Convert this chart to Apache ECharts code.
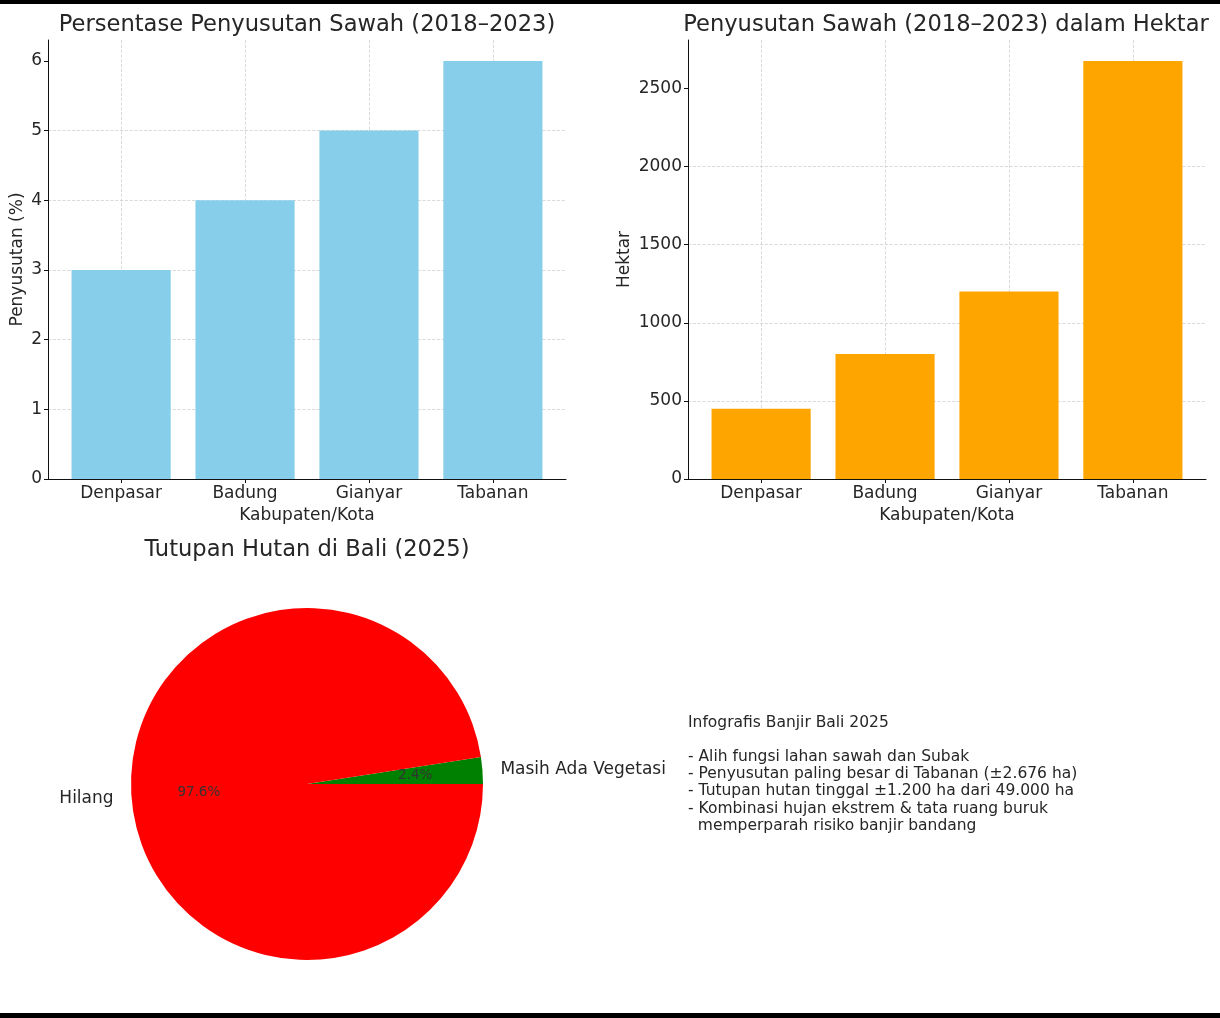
<!DOCTYPE html>
<html>
<head>
<meta charset="utf-8">
<script src="https://cdn.jsdelivr.net/npm/echarts@6/dist/echarts.min.js"></script>
<style>
  html, body { margin: 0; padding: 0; background: #fff; }
  #main { width: 1220px; height: 1018px; position: relative; }
  .bar { position: absolute; left: 0; width: 1220px; background: #000; z-index: 5; }
</style>
</head>
<body>
<div id="main"></div>
<div class="bar" style="top:0;height:4px"></div>
<div class="bar" style="top:1013px;height:5px"></div>
<script>
// data
var kabupaten = ['Denpasar', 'Badung', 'Gianyar', 'Tabanan'];
var persenSusut = [3, 4, 5, 6];
var hektarSusut = [450, 800, 1200, 2676];
var persenTicks = [0, 1, 2, 3, 4, 5, 6];
var hektarTicks = [0, 500, 1000, 1500, 2000, 2500];
var hutanNama = ['Masih Ada Vegetasi', 'Hilang'];
var hutanHa = [1200, 47800];
var infoLines = [
    'Infografis Banjir Bali 2025',
    '',
    '- Alih fungsi lahan sawah dan Subak',
    '- Penyusutan paling besar di Tabanan (\u00b12.676 ha)',
    '- Tutupan hutan tinggal \u00b11.200 ha dari 49.000 ha',
    '- Kombinasi hujan ekstrem & tata ruang buruk',
    '  memperparah risiko banjir bandang'
];

var FONT = 'DejaVu Sans';
var TXT = '#262626';
var GRIDLINE = { color: '#d0d0d0', type: 'dashed', width: 0.8 };
var katIdx = kabupaten.map(function (k, i) { return i; });

// x axis is a value axis so the margins match (bars sit at 0..3)
function xAxisCfg(gridIndex) {
    return {
        type: 'value',
        gridIndex: gridIndex,
        min: -0.59,
        max: 3.59,
        name: 'Kabupaten/Kota',
        nameLocation: 'middle',
        nameGap: 28,
        nameTextStyle: { fontFamily: FONT, fontSize: 17, color: TXT },
        axisLine: { show: true, onZero: false, lineStyle: { color: '#111', width: 1 } },
        axisTick: { show: true, length: 4, customValues: katIdx, lineStyle: { color: '#111' } },
        axisLabel: {
            fontFamily: FONT, fontSize: 17, color: TXT, margin: 6, customValues: katIdx,
            formatter: function (v) { return kabupaten[Math.round(v)]; }
        },
        splitLine: { show: true, lineStyle: GRIDLINE }
    };
}

function yAxisCfg(gridIndex, name, max, interval, ticks, nameGap) {
    return {
        type: 'value',
        gridIndex: gridIndex,
        min: 0,
        max: max,
        interval: interval,
        name: name,
        nameLocation: 'middle',
        nameGap: nameGap,
        nameRotate: 90,
        nameTextStyle: { fontFamily: FONT, fontSize: 17, color: TXT },
        axisLine: { show: true, onZero: false, lineStyle: { color: '#111', width: 1 } },
        axisTick: { show: true, length: 4, customValues: ticks, lineStyle: { color: '#111' } },
        axisLabel: {
            fontFamily: FONT, fontSize: 17, color: TXT, margin: 6, customValues: ticks,
            formatter: function (v) { return String(v); }
        },
        splitLine: { show: true, showMaxLine: false, lineStyle: GRIDLINE }
    };
}

var myChart = echarts.init(document.getElementById('main'));

var option = {
    animation: false,
    backgroundColor: '#fff',
    title: [
        { text: 'Persentase Penyusutan Sawah (2018\u20132023)', left: 302, top: 9, textAlign: 'center',
          textStyle: { fontFamily: FONT, fontSize: 22.6, fontWeight: 'normal', color: TXT } },
        { text: 'Penyusutan Sawah (2018\u20132023) dalam Hektar', left: 941, top: 9, textAlign: 'center',
          textStyle: { fontFamily: FONT, fontSize: 22.6, fontWeight: 'normal', color: TXT } },
        { text: 'Tutupan Hutan di Bali (2025)', left: 302, top: 534, textAlign: 'center',
          textStyle: { fontFamily: FONT, fontSize: 22.6, fontWeight: 'normal', color: TXT } }
    ],
    grid: [
        { left: 48, width: 518, top: 40, height: 439 },
        { left: 688, width: 518, top: 40, height: 439 }
    ],
    xAxis: [xAxisCfg(0), xAxisCfg(1)],
    yAxis: [
        yAxisCfg(0, 'Penyusutan (%)', 6.3, 1, persenTicks, 22),
        yAxisCfg(1, 'Hektar', 2810, 500, hektarTicks, 55)
    ],
    series: [
        {
            type: 'bar', xAxisIndex: 0, yAxisIndex: 0,
            data: persenSusut.map(function (v, i) { return [i, v]; }), barWidth: '80%',
            itemStyle: { color: '#87ceeb' }, silent: true
        },
        {
            type: 'bar', xAxisIndex: 1, yAxisIndex: 1,
            data: hektarSusut.map(function (v, i) { return [i, v]; }), barWidth: '80%',
            itemStyle: { color: '#ffa500' }, silent: true
        },
        {
            type: 'pie',
            center: [307, 784],
            radius: 176,
            startAngle: 0,
            clockwise: false,
            avoidLabelOverlap: false,
            silent: true,
            data: hutanNama.map(function (n, i) { return { name: n, value: hutanHa[i] }; }),
            itemStyle: {
                color: function (p) { return p.dataIndex === 0 ? '#008000' : '#ff0000'; }
            },
            label: {
                position: 'outside', formatter: '{b}',
                fontFamily: FONT, fontSize: 17, color: TXT,
                distanceToLabelLine: 0
            },
            labelLine: { show: false, length: 18, length2: 0 }
        },
        {
            type: 'pie',
            center: [307, 784],
            radius: 211,
            startAngle: 0,
            clockwise: false,
            avoidLabelOverlap: false,
            silent: true,
            percentPrecision: 1,
            z: 3,
            data: hutanNama.map(function (n, i) { return { name: n, value: hutanHa[i] }; }),
            itemStyle: { color: 'rgba(0,0,0,0)' },
            label: {
                position: 'inside', formatter: '{d}%',
                fontFamily: FONT, fontSize: 13.5, color: '#333'
            },
            labelLine: { show: false }
        }
    ],
    graphic: [
        {
            type: 'text', left: 688, top: 714,
            style: {
                text: infoLines.join('\n'),
                fontFamily: FONT, fontSize: 15.5, lineHeight: 17.2,
                fill: TXT
            }
        }
    ]
};

myChart.setOption(option);
</script>
</body>
</html>
